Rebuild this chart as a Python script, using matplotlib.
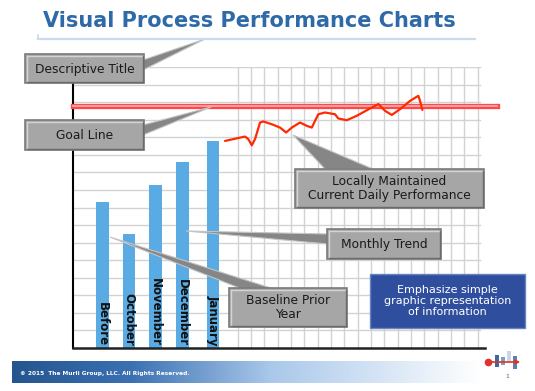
import numpy as np
import matplotlib.pyplot as plt
from matplotlib.patches import Rectangle, Polygon
from matplotlib.colors import LinearSegmentedColormap

# bar data (in grid rows)
months = ["Before", "October", "November", "December", "January"]
month_x = [2.2, 4.2, 6.2, 8.2, 10.5]
month_vals = [8.3, 6.5, 9.3, 10.6, 11.8]

goal = 13.8

# daily performance, x in grid columns
day_x = [11.40, 12.90, 13.15, 13.41, 13.65, 14.03, 14.28, 14.91, 15.53, 15.98,
         16.41, 17.03, 17.53, 17.91, 18.15, 18.40, 18.90, 19.65, 19.90, 20.53,
         21.28, 22.28, 22.90, 23.41, 23.91, 24.53, 25.28, 25.90, 26.03, 26.20]
day_y = [11.79, 12.04, 11.89, 11.54, 11.89, 12.84, 12.90, 12.74, 12.55, 12.27,
         12.55, 12.84, 12.65, 12.55, 12.93, 13.31, 13.41, 13.31, 13.07, 12.97,
         13.22, 13.64, 13.89, 13.50, 13.27, 13.60, 14.07, 14.36, 14.07, 13.56]

W, H = 535, 391
fig = plt.figure(figsize=(W / 100, H / 100), dpi=100)

# chart area: x 73..485 px, y 67..348 px
ax = fig.add_axes([73 / W, (H - 348) / H, (485 - 73) / W, (348 - 67) / H])
ax.set_xlim(0, 30.9)
ax.set_ylim(0, 16)
grid_right = 30.53
for y in range(1, 17):
    ax.plot([0, grid_right], [y, y], color="#d2d2d2", lw=1, zorder=0)
for x in np.arange(12.35, 30.4, 1.0):
    ax.plot([x, x], [0, 16], color="#d2d2d2", lw=1, zorder=0)
for s in ["top", "right"]:
    ax.spines[s].set_visible(False)
ax.spines["left"].set_linewidth(1.5)
ax.spines["bottom"].set_linewidth(1.8)
ax.spines["bottom"].set_color("#222222")
ax.set_xticks([])
ax.set_yticks([])

ax.bar(month_x, month_vals, width=0.97, color="#5aabe3", zorder=2)
for x, m in zip(month_x, months):
    ax.text(x, 0.12, m, rotation=270, rotation_mode="anchor", ha="right",
            va="center", fontsize=8.5, fontweight="bold", color="#111111", zorder=3)

ax.plot([0, 31.8], [goal, goal], color="#ff4848", lw=3.8, clip_on=False, zorder=3)
ax.plot([0, 31.8], [goal, goal], color="#ffb0b0", lw=1.2, clip_on=False, zorder=3)
ax.plot(day_x, day_y, color="#ff2a00", lw=1.6, solid_joinstyle="round",
        solid_capstyle="round", zorder=4)

# slide overlay in pixel coordinates
sl = fig.add_axes([0, 0, 1, 1], zorder=5)
sl.set_xlim(0, W)
sl.set_ylim(H, 0)
sl.axis("off")
sl.patch.set_alpha(0)

sl.text(43, 21, "Visual Process Performance Charts", fontsize=15,
        fontweight="bold", color="#2e6aa8", va="center", ha="left")
sl.plot([38, 475], [38.5, 38.5], color="#c8dbef", lw=1.6)
sl.plot([38, 38], [35, 38.5], color="#c8dbef", lw=1.2)


def wedge(base1, base2, tip):
    sl.add_patch(Polygon([base1, tip, base2], closed=True, facecolor="#868686",
                         edgecolor="#c4c4c4", lw=0.8, zorder=1))


def box(x0, y0, x1, y1, text, fs=8.8):
    sl.add_patch(Rectangle((x0, y0), x1 - x0, y1 - y0, facecolor="#a6a6a6",
                           edgecolor="#7a7a7a", lw=1.2, zorder=2))
    sl.plot([x0 + 1.5, x1 - 1.5], [y0 + 1.5, y0 + 1.5], color="#d4d4d4", lw=1, zorder=3)
    sl.plot([x0 + 1.5, x0 + 1.5], [y0 + 1.5, y1 - 1.5], color="#d4d4d4", lw=1, zorder=3)
    sl.plot([x0 + 1.5, x1 - 1.5], [y1 - 1.5, y1 - 1.5], color="#6b6b6b", lw=1, zorder=3)
    sl.plot([x1 - 1.5, x1 - 1.5], [y0 + 1.5, y1 - 1.5], color="#6b6b6b", lw=1, zorder=3)
    sl.text((x0 + x1) / 2, (y0 + y1) / 2 + 0.5, text, ha="center", va="center",
            fontsize=fs, color="#1a1a1a", linespacing=1.1, zorder=4)


wedge((143, 60), (143, 70), (205, 39))
box(25, 54, 144, 83, "Descriptive Title")
wedge((143, 125), (143, 135), (211, 107))
box(25, 120, 144, 150, "Goal Line")
wedge((325, 169), (373, 169), (293, 135))
box(295, 169, 484, 208, "Locally Maintained\nCurrent Daily Performance")
wedge((328, 234), (328, 244), (186, 231))
box(327, 229, 441, 259, "Monthly Trend")
wedge((242, 289), (274, 289), (110, 237))
box(229, 288, 347, 327, "Baseline Prior\nYear")

sl.add_patch(Rectangle((370, 274), 155, 54, facecolor="#2f4f9e",
                       edgecolor="#6b84c0", lw=1, zorder=2))
sl.text(447.5, 301, "Emphasize simple\ngraphic representation\nof information",
        ha="center", va="center", fontsize=8, color="white", linespacing=1.15, zorder=3)

# footer band
cmap = LinearSegmentedColormap.from_list(
    "foot", [(0, "#24558f"), (0.25, "#3a70b2"), (0.55, "#a9c8ea"), (1, "#ffffff")])
grad = np.linspace(0, 1, 256).reshape(1, -1)
sl.imshow(grad, cmap=cmap, extent=[12, 482, 383, 361], aspect="auto", zorder=1)
sl.set_xlim(0, W)
sl.set_ylim(H, 0)
sl.text(20, 374, "\u00a9 2015  The Murli Group, LLC. All Rights Reserved.",
        fontsize=4.2, fontweight="bold", color="white", va="center", zorder=3)

# logo
for x, y0, y1, c in [(497, 355, 367, "#3d6a9c"), (503, 357, 365, "#7f9fc2"),
                     (509, 351, 362, "#c9d6e4"), (515, 356, 369, "#5b82ad")]:
    sl.add_patch(Rectangle((x - 2, y0), 4, y1 - y0, facecolor=c, lw=0, zorder=3))
sl.annotate("", xy=(523, 362), xytext=(488, 362),
            arrowprops=dict(arrowstyle="-|>", color="#e0322a", lw=1.2,
                            mutation_scale=6), zorder=4)
sl.plot([488], [362], "o", color="#e0322a", ms=4.5, zorder=5)
sl.text(507, 376, "1", fontsize=4.5, color="#3d6a9c", ha="center", va="center")

fig.savefig("out.png", dpi=100)
